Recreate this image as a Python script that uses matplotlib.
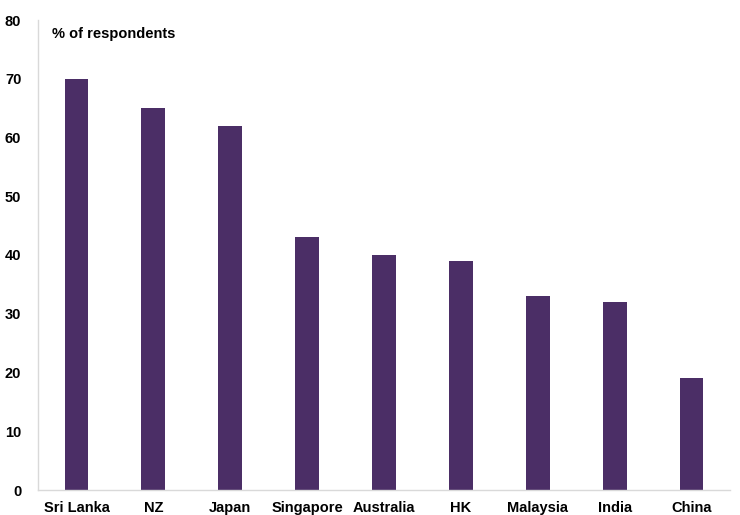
import matplotlib
matplotlib.use("Agg")
import matplotlib.pyplot as plt

categories = ["Sri Lanka", "NZ", "Japan", "Singapore", "Australia", "HK", "Malaysia", "India", "China"]
values = [70, 65, 62, 43, 40, 39, 33, 32, 19]
yticks = [0, 10, 20, 30, 40, 50, 60, 70, 80]

plt.rcParams['font.family'] = ['Liberation Sans', 'DejaVu Sans']

fig = plt.figure(figsize=(7.4, 5.15), dpi=100)
ax = fig.add_axes([38/740, 25/515, 692/740, 470/515])
x = list(range(len(categories)))
ax.bar(x, values, width=0.31, color="#4B2E66")
ax.set_xlim(-0.5, len(categories) - 0.5)
ax.set_ylim(0, 80)
ax.set_yticks(yticks)
ax.set_xticks(x)
ax.set_xticklabels(categories, fontsize=10.5, fontweight='bold')
ax.set_yticklabels([str(v) for v in yticks], fontsize=10.5, fontweight='bold')
ax.tick_params(axis='both', length=0)
ax.tick_params(axis='y', pad=12)
ax.tick_params(axis='x', pad=8)
for s in ['top', 'right']:
    ax.spines[s].set_visible(False)
for s in ['left', 'bottom']:
    ax.spines[s].set_color('#D9D9D9')
    ax.spines[s].set_linewidth(1)
ax.text(0.02, 0.985, "% of respondents", transform=ax.transAxes, fontsize=10.5,
        fontweight='bold', va='top', ha='left')
fig.savefig("out.png", dpi=100)
